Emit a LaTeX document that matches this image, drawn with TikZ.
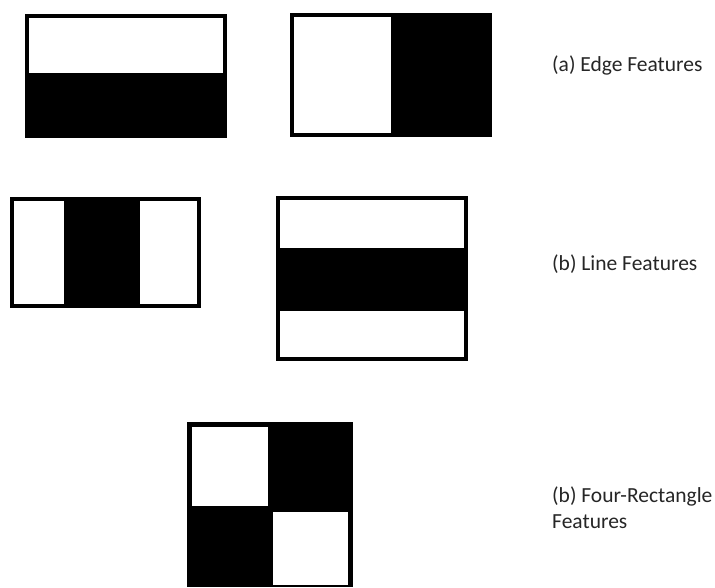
\documentclass[tikz,border=0pt]{standalone}
\usepackage{fontspec}
\setmainfont{Carlito}
\begin{document}
\begin{tikzpicture}[x=1pt,y=-1pt,
  frame/.style={draw=black,line width=4pt},
  blk/.style={fill=black},
  wht/.style={fill=white},
  lbl/.style={anchor=west,inner sep=0pt,font=\fontsize{21.5}{26}\selectfont,align=left,text=black!85}]
\useasboundingbox[fill=white] (0,0) rectangle (715,587);
% (a) edge feature 1
\fill[blk] (25,73) rectangle (227,138);
\draw[frame] (27,16) rectangle (225,136);
% (a) edge feature 2
\fill[blk] (391,13) rectangle (492,137);
\draw[frame] (292,15) rectangle (490,135);
% (b) line feature 1
\fill[blk] (64,197) rectangle (140,308);
\draw[frame] (12,199) rectangle (199,306);
% (b) line feature 2
\fill[blk] (276,248) rectangle (468,311);
\draw[frame] (278,198) rectangle (466,359);
% four-rectangle feature
\fill[blk] (187,422) rectangle (353,587);
\fill[wht] (192,427) rectangle (268,506);
\fill[wht] (273,512) rectangle (348,585);
% labels
\node[lbl] (la) at (552,65) {(a) Edge Features};
\node[lbl] (lb) at (552,264) {(b) Line Features};
\node[lbl] (lc) at (552,508) {(b) Four-Rectangle\\Features};
\end{tikzpicture}
\end{document}
